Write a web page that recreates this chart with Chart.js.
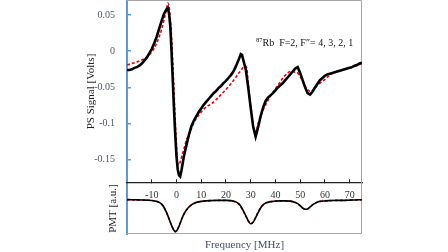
<!DOCTYPE html>
<html><head><meta charset="utf-8">
<script src="https://cdn.jsdelivr.net/npm/chart.js@4/dist/chart.umd.min.js"></script>
<style>html,body{margin:0;padding:0;background:#fff}#c{display:block}</style>
</head><body>
<canvas id="c" width="448" height="252"></canvas>
<script>
// PS signal (black, measured)
const psFreq = [-20,-19,-18,-17,-16,-15,-14,-13,-12,-11,-10,-9,-8,-7,-6,-5,-4,-3.5,-3,-2.5,-2,-1.5,-1,-0.5,0,0.5,1,1.5,2,2.5,3,4,5,6,7,8,9,10,11,12,13,14,15,16,17,18,19,20,21,22,23,24,25,26,26.5,27,28,29,30,31,32,33,34,35,36,37,38,39,40,41,42,43,44,45,46,47,48,49,50,51,52,53,54,55,56,57,58,59,60,61,62,63,64,65,66,67,68,69,70,71,72,73,74,75];
const psSignal = [-0.026,-0.026,-0.025,-0.023,-0.022,-0.020,-0.017,-0.013,-0.009,-0.003,0.003,0.011,0.020,0.031,0.042,0.052,0.058,0.060,0.052,0.035,0.000,-0.040,-0.080,-0.115,-0.145,-0.163,-0.171,-0.173,-0.165,-0.155,-0.145,-0.130,-0.116,-0.104,-0.096,-0.090,-0.084,-0.079,-0.074,-0.070,-0.066,-0.062,-0.058,-0.055,-0.051,-0.048,-0.044,-0.041,-0.037,-0.033,-0.028,-0.021,-0.013,-0.004,-0.005,-0.012,-0.025,-0.050,-0.078,-0.104,-0.118,-0.105,-0.090,-0.078,-0.069,-0.064,-0.061,-0.058,-0.054,-0.050,-0.047,-0.044,-0.040,-0.036,-0.032,-0.028,-0.024,-0.022,-0.030,-0.040,-0.050,-0.058,-0.060,-0.056,-0.050,-0.045,-0.040,-0.037,-0.034,-0.032,-0.031,-0.030,-0.029,-0.028,-0.027,-0.026,-0.025,-0.024,-0.023,-0.022,-0.020,-0.019,-0.017,-0.016];
// PS signal fit (red dashed)
const fitFreq = [-20,-18,-16,-14,-12,-10,-9,-8,-7,-6,-5,-4,-3.5,-3,-2.5,-2,-1.5,-1,-0.5,0,0.5,1,1.5,2,3,4,5,6,7,8,9,10,11,12,14,16,18,20,22,24,25,26,27,28,28.5,29,30,31,32,33,34,35,36,37,38,39,40,41,42,43,44,45,46,47,48,49,50,51,52,53,54,55,56,57,58,60,62,64,66,68,70,72,74,75];
const fitSignal = [-0.019,-0.017,-0.015,-0.012,-0.008,-0.001,0.004,0.011,0.020,0.030,0.044,0.058,0.0665,0.062,0.045,0.020,-0.015,-0.055,-0.095,-0.130,-0.155,-0.157,-0.153,-0.147,-0.135,-0.123,-0.115,-0.107,-0.099,-0.093,-0.088,-0.084,-0.080,-0.077,-0.073,-0.067,-0.060,-0.053,-0.045,-0.036,-0.031,-0.027,-0.022,-0.021,-0.025,-0.045,-0.078,-0.103,-0.111,-0.100,-0.090,-0.081,-0.074,-0.068,-0.062,-0.057,-0.052,-0.047,-0.042,-0.037,-0.033,-0.030,-0.028,-0.028,-0.029,-0.030,-0.035,-0.041,-0.048,-0.053,-0.0555,-0.054,-0.051,-0.047,-0.044,-0.039,-0.033,-0.029,-0.027,-0.025,-0.023,-0.021,-0.018,-0.017];
// PMT (lower panel)
const pmtFreq = [-20,-18,-16,-14,-12,-10,-8,-7,-6,-5,-4,-3,-2,-1,-0.5,0,1,2,3,4,5,6,7,8,10,12,14,16,18,20,22,23,24,25,26,27,28,29,30,31,32,33,34,35,36,38,40,42,44,46,47,48,49,50,51,52,53,54,55,56,57,58,60,62,65,68,70,72,75];
const pmtSignal = [0.675,0.672,0.670,0.668,0.664,0.658,0.640,0.620,0.585,0.520,0.420,0.300,0.170,0.070,0.045,0.060,0.150,0.280,0.390,0.470,0.530,0.570,0.600,0.620,0.640,0.650,0.655,0.660,0.660,0.660,0.655,0.645,0.630,0.600,0.545,0.460,0.360,0.260,0.200,0.230,0.320,0.420,0.510,0.570,0.605,0.635,0.645,0.650,0.650,0.645,0.635,0.620,0.595,0.555,0.510,0.485,0.490,0.530,0.570,0.600,0.625,0.640,0.650,0.655,0.660,0.660,0.665,0.668,0.672];
const pmtFit = [0.672,0.670,0.668,0.666,0.662,0.656,0.638,0.618,0.582,0.515,0.415,0.295,0.168,0.070,0.047,0.062,0.152,0.278,0.385,0.465,0.525,0.565,0.595,0.615,0.638,0.648,0.654,0.658,0.659,0.659,0.652,0.640,0.622,0.590,0.535,0.450,0.355,0.258,0.202,0.235,0.325,0.425,0.512,0.570,0.605,0.633,0.644,0.648,0.649,0.644,0.634,0.618,0.592,0.552,0.508,0.486,0.492,0.532,0.572,0.602,0.626,0.640,0.650,0.655,0.659,0.660,0.664,0.667,0.670];
const xTickValues = [-10,0,10,20,30,40,50,60,70];
const yTickValues = [-0.15,-0.1,-0.05,0,0.05];
const annotation = ['87', 'Rb  F=2, F\u2033= 4, 3, 2, 1'];

const Y_MIN = -0.182, Y_MAX = 0.0707;
const SERIF = "'Liberation Serif', 'Times New Roman', serif";
const BLUE = '#5b9bd5';
const pts = (xs, ys) => xs.map((x, i) => ({x: x, y: ys[i]}));
const fixY = s => { s.width = 47; s.paddingTop = 0; s.paddingBottom = 0; };

const framePlugin = {
  id: 'frame',
  beforeDatasetsDraw(chart) {
    const {ctx, chartArea: a} = chart;
    ctx.save();
    ctx.strokeStyle = '#a6a6a6';
    ctx.lineWidth = 1;
    ctx.beginPath();
    ctx.moveTo(a.left, a.top + 0.5); ctx.lineTo(a.right - 0.5, a.top + 0.5);
    ctx.lineTo(a.right - 0.5, a.bottom - 0.5); ctx.lineTo(a.left, a.bottom - 0.5);
    ctx.stroke();
    ctx.restore();
  },
  afterDatasetsDraw(chart) {
    const {ctx} = chart;
    ctx.save();
    ctx.fillStyle = '#111';
    ctx.textBaseline = 'alphabetic';
    let x = 256, y = 46;
    ctx.font = '6.5px ' + SERIF;
    ctx.fillText(annotation[0], x, y - 4);
    x += ctx.measureText(annotation[0]).width;
    ctx.font = '10px ' + SERIF;
    ctx.fillText(annotation[1], x, y);
    ctx.restore();
  }
};

new Chart(document.getElementById('c'), {
  type: 'line',
  data: {
    datasets: [
      {label: 'PS', data: pts(psFreq, psSignal), yAxisID: 'y', borderColor: '#000', borderWidth: 2.6, pointRadius: 0, tension: 0},
      {label: 'PS fit', data: pts(fitFreq, fitSignal), yAxisID: 'y', borderColor: '#e8000b', borderWidth: 1.6, borderDash: [3, 2], pointRadius: 0, cubicInterpolationMode: 'monotone'},
      {label: 'PMT', data: pts(pmtFreq, pmtSignal), yAxisID: 'y2', borderColor: '#000', borderWidth: 1.6, pointRadius: 0, cubicInterpolationMode: 'monotone'},
      {label: 'PMT fit', data: pts(pmtFreq, pmtFit), yAxisID: 'y2', borderColor: '#e8000b', borderWidth: 1.6, borderDash: [3, 2], pointRadius: 0, cubicInterpolationMode: 'monotone'}
    ]
  },
  options: {
    responsive: false, animation: false, devicePixelRatio: 1,
    layout: {padding: {left: 80, right: 86, top: 0, bottom: 0}},
    plugins: {legend: {display: false}, tooltip: {enabled: false}},
    scales: {
      y: {
        type: 'linear', min: Y_MIN, max: Y_MAX, position: 'left', stack: 'v', stackWeight: 183, weight: 2,
        afterBuildTicks: s => { s.ticks = yTickValues.map(v => ({value: v})); },
        afterFit: fixY,
        ticks: {font: {family: SERIF, size: 10}, color: '#4f5868', padding: 16, callback: v => String(v)},
        grid: {display: true, drawOnChartArea: false, drawTicks: true, tickLength: -4, color: BLUE, lineWidth: 1.5},
        border: {display: true, color: BLUE, width: 2},
        title: {display: true, text: 'PS Signal [Volts]', font: {family: SERIF, size: 11}, color: '#222', padding: {top: 4.5, bottom: 0}}
      },
      y2: {
        type: 'linear', min: 0, max: 1, position: 'left', stack: 'v', stackWeight: 51, weight: 1,
        afterFit: fixY,
        ticks: {display: false},
        grid: {display: false},
        border: {display: true, color: BLUE, width: 2},
        title: {display: true, text: 'PMT [a.u.]', font: {family: SERIF, size: 11}, color: '#222', padding: {top: 27, bottom: 0}}
      },
      x: {
        type: 'linear', min: -20, max: 75, position: {y: Y_MIN},
        afterBuildTicks: s => { s.ticks = xTickValues.map(v => ({value: v})); },
        afterFit: s => { s.height = 0; },
        ticks: {font: {family: SERIF, size: 10}, color: '#333', padding: 10, maxRotation: 0, autoSkip: false, callback: v => String(v)},
        grid: {display: true, drawOnChartArea: false, drawTicks: true, tickLength: -4, color: '#222', lineWidth: 1},
        border: {display: true, color: '#222', width: 1.3}
      },
      x2: {
        type: 'linear', min: -20, max: 75, position: 'bottom',
        afterFit: s => { s.height = 18; },
        ticks: {display: false},
        grid: {display: false},
        border: {display: false},
        title: {display: true, text: 'Frequency [MHz]', font: {family: SERIF, size: 11}, color: '#3f4d6b', padding: {top: 0, bottom: 0}}
      }
    }
  },
  plugins: [framePlugin]
});
</script>
</body></html>
